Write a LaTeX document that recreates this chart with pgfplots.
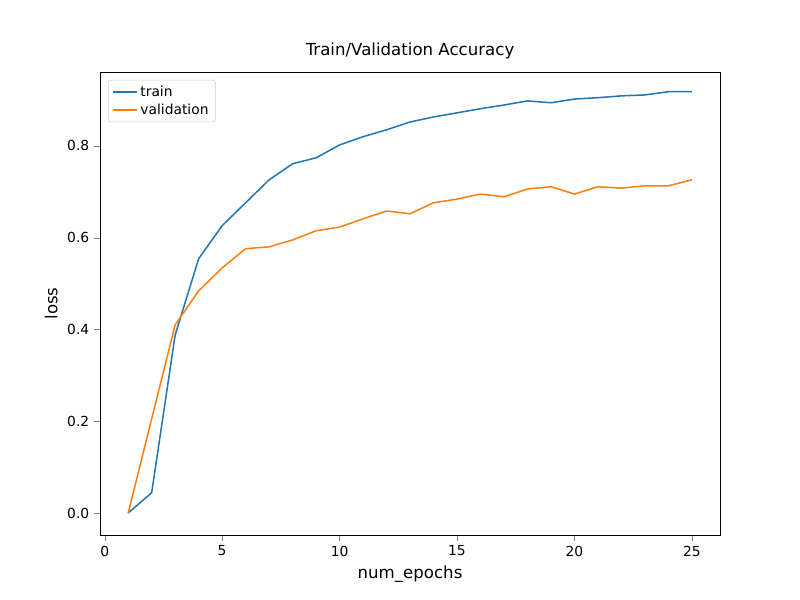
\documentclass[border=0pt]{standalone}
\usepackage{pgfplots}
\pgfplotsset{compat=1.18}
\usepackage{fontspec}
\setmainfont{DejaVu Sans}
\definecolor{c0}{HTML}{1F77B4}
\definecolor{c1}{HTML}{FF7F0E}
\begin{document}
\begin{tikzpicture}
\begin{axis}[scale only axis, width=448.1pt, height=334.6pt,
  xmin=-0.2, xmax=26.2, ymin=-0.048, ymax=0.961,
  xtick={0,5,...,25}, ytick={0,0.2,...,0.8},
  yticklabel style={/pgf/number format/.cd,fixed,fixed zerofill,precision=1},
  /pgf/number format/assume math mode=true,
  tick align=outside, tick pos=left,
  tick label style={font=\fontsize{10}{12}\selectfont},
  title={Train/Validation Accuracy}, title style={font=\fontsize{12}{14}\selectfont},
  xlabel={num\_epochs}, ylabel={loss},
  label style={font=\fontsize{12}{14}\selectfont},
  legend cell align=left,
  legend style={at={(0.013,0.983)}, anchor=north west, font=\fontsize{10}{12}\selectfont, draw=black!20, rounded corners=2pt},
  every axis plot/.append style={line width=1.1pt}]
\path (rel axis cs:0,0) coordinate (O);
\addplot[c0] coordinates {(1,0)(2,0.044)(3,0.388)(4,0.554)(5,0.626)(6,0.676)(7,0.726)(8,0.761)(9,0.774)(10,0.802)(11,0.820)(12,0.835)(13,0.852)(14,0.863)(15,0.872)(16,0.881)(17,0.889)(18,0.898)(19,0.894)(20,0.902)(21,0.905)(22,0.909)(23,0.911)(24,0.918)(25,0.918)};
\addlegendentry{train}
\addplot[c1] coordinates {(1,0)(2,0.205)(3,0.410)(4,0.484)(5,0.534)(6,0.576)(7,0.580)(8,0.595)(9,0.615)(10,0.623)(11,0.641)(12,0.658)(13,0.652)(14,0.676)(15,0.684)(16,0.695)(17,0.689)(18,0.706)(19,0.711)(20,0.695)(21,0.711)(22,0.708)(23,0.713)(24,0.713)(25,0.726)};
\addlegendentry{validation}
\end{axis}
\path[use as bounding box] (O) ++(-72.27pt,-46.98pt) rectangle ++(578.16pt,433.62pt);
\end{tikzpicture}
\end{document}
